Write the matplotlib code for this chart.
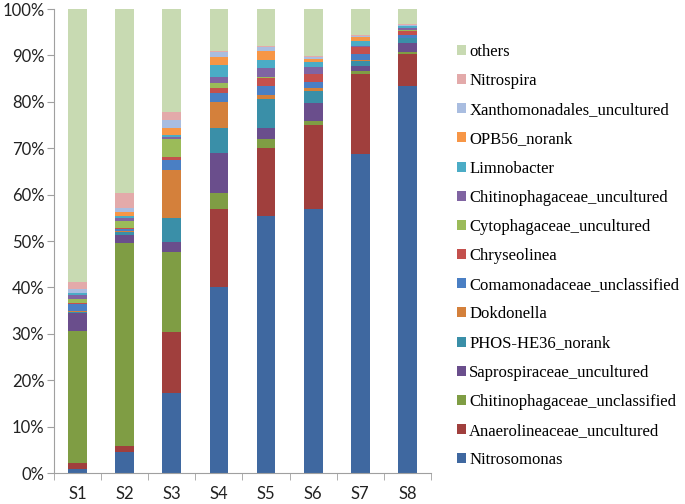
import numpy as np
import matplotlib
matplotlib.use("Agg")
import matplotlib.pyplot as plt
from matplotlib.patches import Patch
from matplotlib.ticker import FuncFormatter, FixedLocator

samples = ["S1", "S2", "S3", "S4", "S5", "S6", "S7", "S8"]

# relative abundance (%) per taxon, bottom to top of the stack
nitrosomonas = [0.8, 4.5, 17.2, 40.0, 55.5, 56.8, 68.8, 83.4]
anaerolineaceae_unc = [1.3, 1.4, 13.3, 17.0, 14.6, 18.2, 17.3, 6.9]
chitinophagaceae_uncl = [28.5, 43.6, 17.2, 3.3, 2.0, 0.9, 0.6, 0.5]
saprospiraceae_unc = [3.9, 1.9, 2.1, 8.7, 2.2, 3.8, 1.0, 1.8]
phos_he36 = [0.3, 0.6, 5.1, 5.4, 6.3, 2.7, 1.1, 1.1]
dokdonella = [0.1, 0.2, 10.4, 5.6, 0.9, 0.6, 0.3, 0.1]
comamonadaceae_uncl = [1.6, 0.5, 2.1, 1.9, 1.9, 1.3, 1.3, 0.6]
chryseolinea = [0.2, 0.2, 0.7, 1.1, 1.7, 1.7, 1.4, 0.9]
cytophagaceae_unc = [0.7, 1.5, 3.9, 1.1, 0.2, 0.1, 0.1, 0.1]
chitinophagaceae_unc = [0.9, 0.6, 0.5, 1.3, 1.9, 1.5, 0.1, 0.6]
limnobacter = [0.5, 0.3, 0.4, 2.6, 1.9, 1.0, 1.2, 0.3]
opb56 = [0.1, 0.9, 1.4, 1.6, 1.8, 0.6, 0.7, 0.1]
xanthomonadales_unc = [0.7, 1.0, 1.8, 1.1, 1.0, 0.5, 0.4, 0.2]
nitrospira = [1.6, 3.1, 1.8, 0.2, 0.2, 0.1, 0.1, 0.1]
others = [58.8, 39.7, 22.1, 9.1, 7.9, 10.2, 5.6, 3.3]

taxa = ["Nitrosomonas", "Anaerolineaceae_uncultured", "Chitinophagaceae_unclassified",
        "Saprospiraceae_uncultured", "PHOS-HE36_norank", "Dokdonella",
        "Comamonadaceae_unclassified", "Chryseolinea", "Cytophagaceae_uncultured",
        "Chitinophagaceae_uncultured", "Limnobacter", "OPB56_norank",
        "Xanthomonadales_uncultured", "Nitrospira", "others"]
series = [nitrosomonas, anaerolineaceae_unc, chitinophagaceae_uncl, saprospiraceae_unc,
          phos_he36, dokdonella, comamonadaceae_uncl, chryseolinea, cytophagaceae_unc,
          chitinophagaceae_unc, limnobacter, opb56, xanthomonadales_unc, nitrospira, others]
colors = ["#3F68A0", "#A03F3D", "#7F9D44", "#6A4E8C", "#3A8FA8", "#D4803B",
          "#4A7FC4", "#C4504D", "#9BBB59", "#8064A2", "#4BACC6", "#F79646",
          "#A9BDE0", "#E3AAAA", "#C8DAB2"]

fig = plt.figure(figsize=(6.85, 5.04), dpi=100)
ax = fig.add_axes([0.079, 0.0615, 0.55, 0.9205])

x = np.arange(len(samples))
bottom = np.zeros(len(samples))
for vals, c in zip(series, colors):
  ax.bar(x, vals, 0.4, bottom=bottom, color=c, linewidth=0)
  bottom += np.array(vals)

ax.set_xlim(-0.5, len(samples) - 0.5)
ax.set_ylim(0, 100)
ax.set_yticks(np.arange(0, 101, 10))
ax.yaxis.set_major_formatter(FuncFormatter(lambda v, p: "{:d}%".format(int(v))))
ax.set_xticks(x)
ax.set_xticklabels(samples)
ax.xaxis.set_minor_locator(FixedLocator(np.arange(-0.5, len(samples), 1)))
ax.tick_params(axis="x", which="major", length=0, pad=9)
ax.tick_params(axis="x", which="minor", length=5, color="#A0A0A0")
ax.tick_params(axis="y", length=5, color="#A0A0A0", pad=2)
for lab in ax.get_xticklabels() + ax.get_yticklabels():
  lab.set_fontfamily("Lato")
  lab.set_fontsize(12)
  lab.set_color("#222222")

for s in ["top", "right"]:
  ax.spines[s].set_visible(False)
for s in ["left", "bottom"]:
  ax.spines[s].set_color("#A0A0A0")

handles = [Patch(facecolor=c, edgecolor="none") for c in colors][::-1]
fig.legend(handles, taxa[::-1], loc="center left", bbox_to_anchor=(0.645, 0.492),
           frameon=False, prop={"family": "Liberation Serif", "size": 12},
           handlelength=0.55, handleheight=0.55, handletextpad=0.2, labelspacing=0.79)

fig.savefig("out.png", dpi=100)
